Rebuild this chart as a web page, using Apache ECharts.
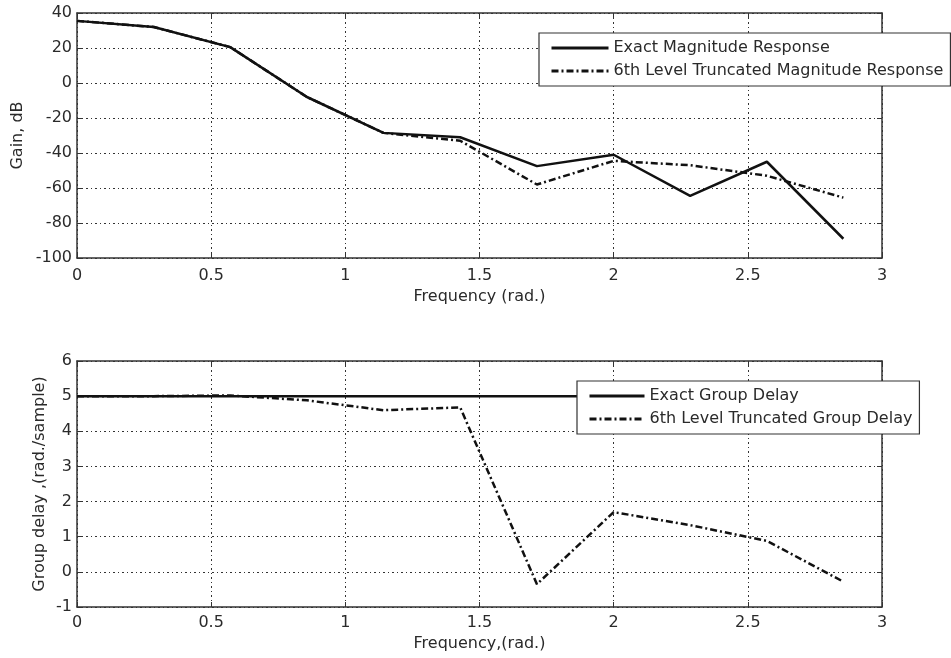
<!DOCTYPE html>
<html>
<head>
<meta charset="utf-8">
<script src="https://cdn.jsdelivr.net/npm/echarts@6/dist/echarts.min.js"></script>
<style>
  html, body { margin: 0; padding: 0; background: #fff; }
  #chart { width: 951px; height: 658px; }
</style>
</head>
<body>
<div id="chart"></div>
<script>
// frequency samples (rad.)
var freq = [0, 0.286, 0.571, 0.857, 1.142, 1.428, 1.714, 2.0, 2.285, 2.571, 2.856];
// gain, dB
var exactGain = [35.5, 32, 20.5, -8, -28.5, -31, -47.5, -41, -64.5, -45, -89];
var truncGain = [35.5, 32, 20.5, -8, -28.5, -33, -58, -44.5, -47, -53, -65.5];
// group delay (rad./sample)
var exactDelay = [5, 5, 5, 5, 5, 5, 5, 5, 5, 5, 5];
var truncDelay = [5, 5, 5.02, 4.88, 4.6, 4.68, -0.35, 1.7, 1.33, 0.88, -0.28];

var font = 'DejaVu Sans';
var textColor = '#2a2a2a';
var dashDot = [7, 3, 2, 3];

function pairs(xs, ys) {
  return xs.map(function (x, i) { return [x, ys[i]]; });
}

// bottom/left axes carry labels and grid, top/right only ticks (matlab box)
function xAxes(gridIndex, name, labelMargin, nameGap) {
  return [{
    type: 'value', gridIndex: gridIndex, min: 0, max: 3, interval: 0.5,
    name: name, nameLocation: 'middle', nameGap: nameGap, nameMoveOverlap: false,
    nameTextStyle: { fontFamily: font, fontSize: 16, color: textColor },
    axisLine: { show: true, onZero: false, lineStyle: { color: '#333', width: 1.5 } },
    axisTick: { show: true, inside: true, length: 5, lineStyle: { color: '#333' } },
    axisLabel: { fontFamily: font, fontSize: 16, color: textColor, margin: labelMargin },
    splitLine: { show: true, lineStyle: { color: '#333', type: [2, 3, 1, 3], width: 1 } }
  }, {
    type: 'value', gridIndex: gridIndex, min: 0, max: 3, interval: 0.5, position: 'top',
    axisLine: { show: true, onZero: false, lineStyle: { color: '#333', width: 1.5 } },
    axisTick: { show: true, inside: true, length: 5, lineStyle: { color: '#333' } },
    axisLabel: { show: false }, splitLine: { show: false }
  }];
}

function yAxes(gridIndex, name, min, max, step, gap) {
  return [{
    type: 'value', gridIndex: gridIndex, min: min, max: max, interval: step,
    name: name, nameLocation: 'middle', nameGap: gap, nameMoveOverlap: false,
    nameTextStyle: { fontFamily: font, fontSize: 16, color: textColor },
    axisLine: { show: true, onZero: false, lineStyle: { color: '#333', width: 1.5 } },
    axisTick: { show: true, inside: true, length: 5, lineStyle: { color: '#333' } },
    axisLabel: { fontFamily: font, fontSize: 16, color: textColor, margin: 5 },
    splitLine: { show: true, lineStyle: { color: '#333', type: [2, 3, 1, 3], width: 1 } }
  }, {
    type: 'value', gridIndex: gridIndex, min: min, max: max, interval: step, position: 'right',
    axisLine: { show: true, onZero: false, lineStyle: { color: '#333', width: 1.5 } },
    axisTick: { show: true, inside: true, length: 5, lineStyle: { color: '#333' } },
    axisLabel: { show: false }, splitLine: { show: false }
  }];
}

function legendBox(names, left, top, itemWidth) {
  return {
    data: names, orient: 'vertical', left: left, top: top,
    itemWidth: itemWidth, itemHeight: 16, itemGap: 7,
    padding: [7, 7, 7, 11],
    backgroundColor: '#fff', borderColor: '#333', borderWidth: 1.2, borderRadius: 0,
    itemStyle: { opacity: 0 },
    lineStyle: { width: 3 },
    textStyle: { fontFamily: font, fontSize: 16, color: textColor },
    selectedMode: false
  };
}

var chart = echarts.init(document.getElementById('chart'), null, { renderer: 'canvas' });
chart.setOption({
  animation: false,
  backgroundColor: '#fff',
  grid: [
    { left: 77, top: 13, width: 805, height: 245 },
    { left: 77, top: 361, width: 805, height: 246 }
  ],
  legend: [
    legendBox(['Exact Magnitude Response', '6th Level Truncated Magnitude Response'], 539, 33, 57),
    legendBox(['Exact Group Delay', '6th Level Truncated Group Delay'], 577, 381, 55)
  ],
  xAxis: xAxes(0, 'Frequency (rad.)', 10, 31).concat(xAxes(1, 'Frequency,(rad.)', 8, 29)),
  yAxis: yAxes(0, 'Gain, dB', -100, 40, 20, 51).concat(yAxes(1, 'Group delay ,(rad./sample)', -1, 6, 1, 29)),
  series: [{
    name: 'Exact Magnitude Response', type: 'line', xAxisIndex: 0, yAxisIndex: 0,
    data: pairs(freq, exactGain), symbol: 'none', z: 3,
    lineStyle: { color: '#111', width: 2.5 }, itemStyle: { color: '#111' }
  }, {
    name: '6th Level Truncated Magnitude Response', type: 'line', xAxisIndex: 0, yAxisIndex: 0,
    data: pairs(freq, truncGain), symbol: 'none', z: 2,
    lineStyle: { color: '#111', width: 2.5, type: dashDot }, itemStyle: { color: '#111' }
  }, {
    name: 'Exact Group Delay', type: 'line', xAxisIndex: 2, yAxisIndex: 2,
    data: pairs(freq, exactDelay), symbol: 'none', z: 3,
    lineStyle: { color: '#111', width: 2.5 }, itemStyle: { color: '#111' }
  }, {
    name: '6th Level Truncated Group Delay', type: 'line', xAxisIndex: 2, yAxisIndex: 2,
    data: pairs(freq, truncDelay), symbol: 'none', z: 2,
    lineStyle: { color: '#111', width: 2.5, type: dashDot }, itemStyle: { color: '#111' }
  }]
});
</script>
</body>
</html>
